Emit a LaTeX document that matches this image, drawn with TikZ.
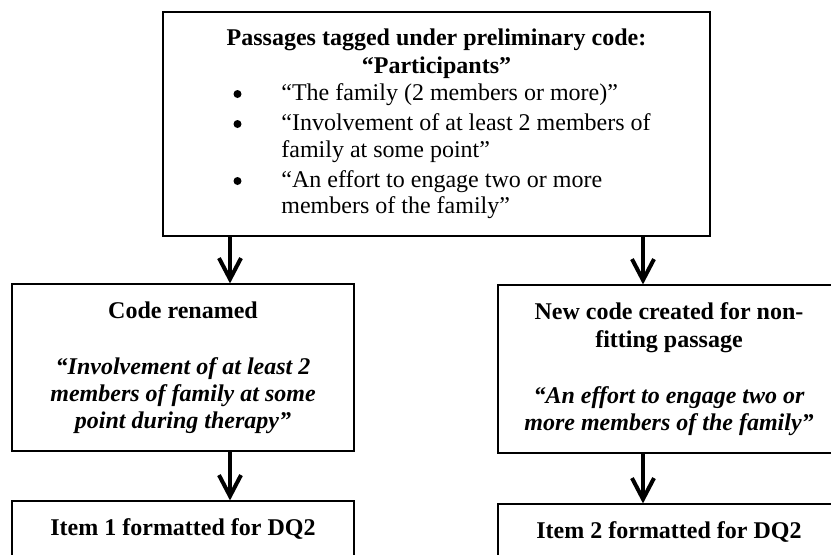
\documentclass[tikz,border=0pt]{standalone}
\usepackage{fontspec}
\setmainfont{Liberation Serif}
\usetikzlibrary{arrows.meta,fit}

\begin{document}
\begin{tikzpicture}[x=0.5pt,y=-0.5pt,
  box/.style={draw=black,line width=0.6pt,inner sep=0pt,fill=white},
  txt/.style={inner sep=0pt,anchor=base,font=\fontsize{12}{14}\selectfont},
  txtl/.style={txt,anchor=base west},
  bhead/.style={txt,font=\fontsize{12}{14}\selectfont\bfseries},
  bquote/.style={txt,font=\fontsize{12}{14}\selectfont\bfseries\itshape},
  dot/.style={circle,fill=black,inner sep=0pt,minimum size=4pt},
  flow/.style={line width=2pt,-{Straight Barb[length=10.5pt,width=11pt,line width=2pt]}}]
  \useasboundingbox (0,0) rectangle (831,554);
  \clip (0,0) rectangle (831,554);

  % boxes
  \node[box,fit={(163,12) (710,236)}] (top) {};
  \node[box,fit={(12,284) (354,451)}] (renamed) {};
  \node[box,fit={(498,285) (840,453)}] (newcode) {};
  \node[box,fit={(12,501) (354,600)}] (item1) {};
  \node[box,fit={(498,504) (840,600)}] (item2) {};

  % top box text
  \node[bhead] (t1) at (436.5,45) {Passages tagged under preliminary code:};
  \node[bhead] (t2) at (436.5,73) {“Participants”};
  \node[dot] (b1) at (237.5,94) {};
  \node[dot] (b2) at (237.5,124) {};
  \node[dot] (b3) at (237.5,181) {};
  \node[txtl] (l1) at (281,100) {“The family (2 members or more)”};
  \node[txtl] (l2) at (281,130) {“Involvement of at least 2 members of};
  \node[txtl] (l3) at (281,157) {family at some point”};
  \node[txtl] (l4) at (281,187) {“An effort to engage two or more};
  \node[txtl] (l5) at (281,213) {members of the family”};

  % left box text
  \node[bhead] (r1) at (183,318) {Code renamed};
  \node[bquote] (r2) at (183,374) {“Involvement of at least 2};
  \node[bquote] (r3) at (183,401) {members of family at some};
  \node[bquote] (r4) at (183,428) {point during therapy”};

  % right box text
  \node[bhead] (n1) at (669,319) {New code created for non-};
  \node[bhead] (n2) at (669,347) {fitting passage};
  \node[bquote] (n3) at (669,403) {“An effort to engage two or};
  \node[bquote] (n4) at (669,430) {more members of the family”};

  % bottom boxes text
  \node[bhead] (i1) at (183,535) {Item 1 formatted for DQ2};
  \node[bhead] (i2) at (669,538) {Item 2 formatted for DQ2};

  % connectors
  \coordinate (lx) at (230,0);
  \coordinate (rx) at (643,0);
  \draw[flow] (top.south -| lx) -- (renamed.north -| lx);
  \draw[flow] (top.south -| rx) -- (newcode.north -| rx);
  \draw[flow] (renamed.south -| lx) -- (item1.north -| lx);
  \draw[flow] (newcode.south -| rx) -- (item2.north -| rx);
\end{tikzpicture}
\end{document}
